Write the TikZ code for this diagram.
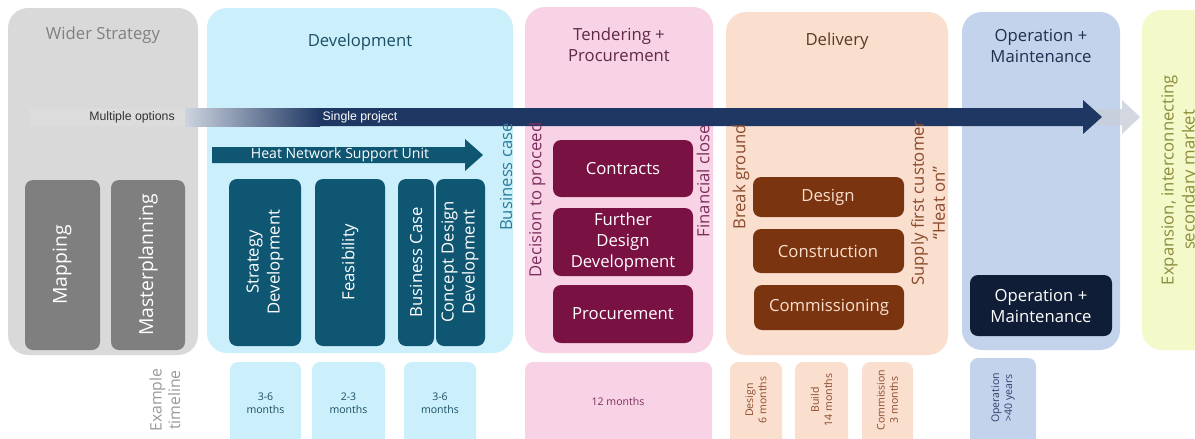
\documentclass[tikz,border=0pt]{standalone}
\usepackage{fontspec}
\setmainfont{Open Sans}
\newfontfamily\arialfont{Liberation Sans}

\definecolor{greybg}{HTML}{D9D9D9}
\definecolor{greybox}{HTML}{7F7F7F}
\definecolor{greytxt}{HTML}{808080}
\definecolor{devbg}{HTML}{CBEFFB}
\definecolor{devbox}{HTML}{0F5672}
\definecolor{devtxt}{HTML}{1B4F63}
\definecolor{devlbl}{HTML}{2C7E9B}
\definecolor{tenbg}{HTML}{F8D3E5}
\definecolor{tenbox}{HTML}{7A1143}
\definecolor{tentxt}{HTML}{5F2945}
\definecolor{tenlbl}{HTML}{7E2E5E}
\definecolor{delbg}{HTML}{FADFCF}
\definecolor{delbox}{HTML}{7A3510}
\definecolor{deltxt}{HTML}{5A3826}
\definecolor{dellbl}{HTML}{8B4A2B}
\definecolor{opbg}{HTML}{C3D3EC}
\definecolor{opbox}{HTML}{0F1E36}
\definecolor{optxt}{HTML}{1F2F4F}
\definecolor{oplbl}{HTML}{2F3F6F}
\definecolor{expbg}{HTML}{F4F9C9}
\definecolor{exptxt}{HTML}{8C8C3C}
\definecolor{navy}{HTML}{1F3763}
\definecolor{fadenavy}{HTML}{CDD4DF}
\definecolor{fadegrey}{HTML}{C9CFD9}

\def\s{0.02}
\def\punkt#1#2{({(#1)*\s},{-(#2)*\s})}

\begin{document}
\begin{tikzpicture}[>=latex,
  panel/.style={rounded corners=0.4cm},
  blok/.style={rounded corners=0.16cm},
  lbl/.style={inner sep=0pt,align=center,font=\fontsize{9.5}{12}\selectfont},
  big/.style={inner sep=0pt,align=center,font=\fontsize{11}{13}\selectfont},
  small/.style={inner sep=0pt,align=center,font=\fontsize{6}{7.5}\selectfont},
  arial/.style={inner sep=0pt,font=\arialfont\fontsize{7}{8}\selectfont}]
\useasboundingbox \punkt{0}{0} rectangle \punkt{1195}{438};
\fill[white] \punkt{0}{0} rectangle \punkt{1195}{438};

% phase panels
\fill[greybg,panel] \punkt{8}{8} rectangle \punkt{198}{355};
\fill[devbg,panel] \punkt{207}{8} rectangle \punkt{513}{353};
\fill[tenbg,panel] \punkt{525}{7} rectangle \punkt{713}{353};
\fill[delbg,panel] \punkt{726}{12} rectangle \punkt{948}{355};
\fill[opbg,panel] \punkt{962}{12} rectangle \punkt{1120}{350};
\fill[expbg,panel] \punkt{1142}{10} rectangle \punkt{1230}{350};

\node[lbl,text=greytxt] (wider) at \punkt{103}{35} {Wider Strategy};
\node[lbl,text=devtxt] (dev) at \punkt{360}{42} {Development};
\node[lbl,text=tentxt] (tender) at \punkt{619}{45} {Tendering +\\Procurement};
\node[lbl,text=deltxt] (delivery) at \punkt{837}{41} {Delivery};
\node[lbl,text=optxt] (operation) at \punkt{1041}{46} {Operation +\\Maintenance};
\node[lbl,text=exptxt,rotate=90] (expansion) at \punkt{1180}{180} {Expansion, interconnecting\\secondary market};

% project arrow
\fill[white,opacity=0.1] \punkt{30}{108} rectangle \punkt{185}{126};
\shade[left color=fadenavy,right color=navy] \punkt{185}{108} rectangle \punkt{320}{126};
\fill[fadegrey,opacity=0.8] \punkt{1090}{109} -- \punkt{1122}{109} -- \punkt{1122}{100}
  -- \punkt{1140}{117} -- \punkt{1122}{134} -- \punkt{1122}{125} -- \punkt{1090}{125} -- cycle;
\fill[navy] \punkt{319}{108} -- \punkt{1083}{108} -- \punkt{1083}{100} -- \punkt{1102}{117}
  -- \punkt{1083}{134} -- \punkt{1083}{126} -- \punkt{319}{126} -- cycle;
\node[arial,text=black!80] (multi) at \punkt{132}{117} {Multiple options};
\node[arial,text=white] (single) at \punkt{360}{117} {Single project};

% wider strategy
\fill[greybox,blok] \punkt{25}{180} rectangle \punkt{100}{350};
\fill[greybox,blok] \punkt{111}{180} rectangle \punkt{185}{350};
\node[big,text=white,rotate=90] (mapping) at \punkt{62}{265} {Mapping};
\node[big,text=white,rotate=90] (master) at \punkt{148}{265} {Masterplanning};

% development
\fill[devbox] \punkt{212}{147} -- \punkt{465}{147} -- \punkt{465}{139} -- \punkt{483}{155}
  -- \punkt{465}{171} -- \punkt{465}{163} -- \punkt{212}{163} -- cycle;
\node[inner sep=0pt,text=white,font=\fontsize{8}{9}\selectfont] (hnsu) at \punkt{340}{155} {Heat Network Support Unit};
\fill[devbox,blok] \punkt{229}{179} rectangle \punkt{301}{346};
\fill[devbox,blok] \punkt{315}{179} rectangle \punkt{385}{346};
\fill[devbox,blok] \punkt{398}{179} rectangle \punkt{434}{346};
\fill[devbox,blok] \punkt{436}{179} rectangle \punkt{485}{346};
\node[lbl,text=white,rotate=90] (strategy) at \punkt{265}{262} {Strategy\\Development};
\node[lbl,text=white,rotate=90] (feas) at \punkt{350}{262} {Feasibility};
\node[lbl,text=white,rotate=90] (bcase) at \punkt{416}{262} {Business Case};
\node[lbl,text=white,rotate=90] (concept) at \punkt{460}{262} {Concept Design\\Development};
\node[lbl,text=devlbl,rotate=90] (bcasegate) at \punkt{506}{177} {Business case};

% tendering + procurement
\fill[tenbox,blok] \punkt{553}{140} rectangle \punkt{693}{197};
\fill[tenbox,blok] \punkt{553}{208} rectangle \punkt{693}{276};
\fill[tenbox,blok] \punkt{553}{285} rectangle \punkt{693}{343};
\node[lbl,text=white] (contracts) at \punkt{623}{169} {Contracts};
\node[lbl,text=white] (further) at \punkt{623}{242} {Further\\Design\\Development};
\node[lbl,text=white] (procure) at \punkt{623}{314} {Procurement};
\node[lbl,text=tenlbl,rotate=90] (decision) at \punkt{537}{200} {Decision to proceed};
\node[lbl,text=tenlbl,rotate=90] (finclose) at \punkt{703}{181} {Financial close};

% delivery
\fill[delbox,blok] \punkt{753}{177} rectangle \punkt{904}{217};
\fill[delbox,blok] \punkt{753}{229} rectangle \punkt{904}{273};
\fill[delbox,blok] \punkt{754}{285} rectangle \punkt{904}{330};
\node[lbl,text=delbg] (design) at \punkt{828}{197} {Design};
\node[lbl,text=delbg] (construct) at \punkt{828}{251} {Construction};
\node[lbl,text=delbg] (commission) at \punkt{829}{307} {Commissioning};
\node[lbl,text=dellbl,rotate=90] (ground) at \punkt{741}{177} {Break ground};
\node[lbl,text=dellbl,rotate=90] (heaton) at \punkt{928}{203} {Supply first customer\\“Heat on”};

% operation + maintenance
\fill[opbox,blok] \punkt{970}{275} rectangle \punkt{1112}{336};
\node[lbl,text=white] (opmain) at \punkt{1041}{306} {Operation +\\Maintenance};

% example timeline
\node[lbl,text=greytxt!80,rotate=90,font=\fontsize{9}{10.5}\selectfont] (timeline) at \punkt{165}{400} {Example\\timeline};
\foreach \xa/\xb/\t [count=\i] in {230/301/3-6,312/385/2-3,404/476/3-6}{
  \fill[devbg,blok] \punkt{\xa}{362} rectangle \punkt{\xb}{450};
  \node[small,text=devtxt] (tdev\i) at \punkt{(\xa+\xb)/2}{403} {\t\\months};
}
\fill[tenbg,blok] \punkt{525}{362} rectangle \punkt{712}{450};
\node[small,text=tenlbl] (tten) at \punkt{618}{402} {12 months};
\foreach \xa/\xb/\t/\d [count=\i] in {730/782/Design/6 months,795/848/Build/14 months,862/913/Commission/3 months}{
  \fill[delbg,blok] \punkt{\xa}{362} rectangle \punkt{\xb}{450};
  \node[small,text=dellbl,rotate=90] (tdel\i) at \punkt{(\xa+\xb)/2}{400} {\t\\\d};
}
\fill[opbg,blok] \punkt{970}{358} rectangle \punkt{1036}{450};
\node[small,text=oplbl,rotate=90] (top) at \punkt{1003}{398} {Operation\\>40 years};
\end{tikzpicture}
\end{document}
